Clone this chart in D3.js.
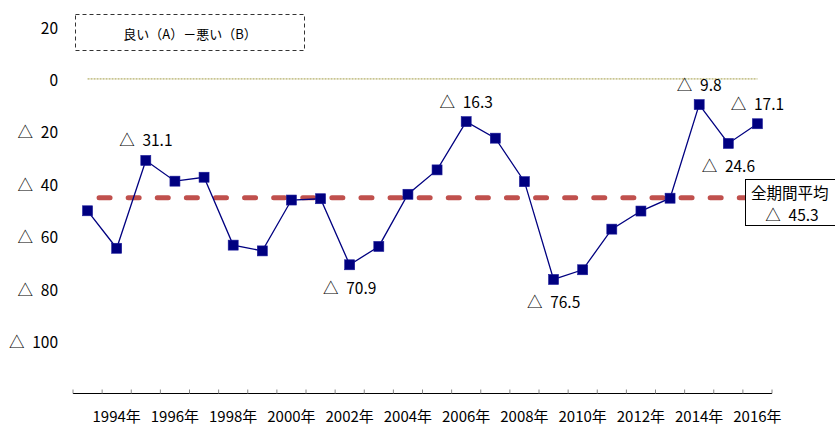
<!DOCTYPE html>
<html lang="ja">
<head>
<meta charset="utf-8">
<script src="https://d3js.org/d3.v7.min.js"></script>
<style>
	body { margin: 0; background: #fff; }
	text {
		font-family: "Noto Sans CJK JP", "Noto Sans", sans-serif;
		fill: #000;
	}
</style>
</head>
<body>
<script>
// data: 良い(A)－悪い(B), shown as negative (△ = minus)
var years = d3.range(1993, 2017);
var values = [-50.3, -64.6, -31.1, -39.0, -37.5, -63.4, -65.6, -46.2, -45.7, -70.9,
	-63.9, -44.0, -34.7, -16.3, -22.6, -39.2, -76.5, -72.8, -57.3, -50.4,
	-45.5, -9.8, -24.6, -17.1];
var average = -45.3;
var yTicks = [20, 0, -20, -40, -60, -80, -100];
var xLabelYears = d3.range(1994, 2017, 2);
var labelYears = [1995, 2002, 2006, 2009, 2014, 2015, 2016];
var labelSide = ["above", "below", "above", "below", "above", "below", "above"];

var w = 835, h = 424;

function fmt(v) {
	return v < 0 ? "\u25B3\u2002" + Math.abs(v) : String(v);
}

var svg = d3.select("body").append("svg")
	.attr("width", w)
	.attr("height", h);

var x = d3.scaleBand()
	.domain(years)
	.range([73, 772]);

var y = d3.scaleLinear()
	.domain([-120, 20])
	.range([393.5, 26.5]);

function cx(d) { return x(d) + x.bandwidth() / 2; }

// zero line (dotted olive)
svg.append("line")
	.attr("x1", cx(1993)).attr("x2", cx(2016))
	.attr("y1", y(0)).attr("y2", y(0))
	.attr("stroke", "#a09a40")
	.attr("stroke-width", 1)
	.attr("stroke-dasharray", "2,1");

// y labels (no axis line)
svg.selectAll(".ylab")
	.data(yTicks)
	.enter().append("text")
	.attr("class", "ylab")
	.attr("x", 58)
	.attr("y", function(d) { return y(d); })
	.attr("text-anchor", "end")
	.attr("dominant-baseline", "central")
	.style("font-size", "15.5px")
	.text(fmt);

// x axis: ticks at category boundaries
var xAxis = svg.append("g");
xAxis.append("line")
	.attr("x1", 73).attr("x2", 772)
	.attr("y1", y(-120)).attr("y2", y(-120))
	.attr("stroke", "#000").attr("stroke-width", 1.2);
xAxis.selectAll(".tick")
	.data(years.concat([2017]))
	.enter().append("line")
	.attr("x1", function(d) { return d === 2017 ? 772 : x(d); })
	.attr("x2", function(d) { return d === 2017 ? 772 : x(d); })
	.attr("y1", y(-120)).attr("y2", y(-120) - 4)
	.attr("stroke", "#888").attr("stroke-width", 1);
xAxis.selectAll(".xlab")
	.data(xLabelYears)
	.enter().append("text")
	.attr("x", cx)
	.attr("y", 415)
	.attr("text-anchor", "middle")
	.attr("dominant-baseline", "central")
	.style("font-size", "15px")
	.text(function(d) { return d + "年"; });

// average dashed line
svg.append("line")
	.attr("x1", cx(1993) + 11.5).attr("x2", 745)
	.attr("y1", y(average)).attr("y2", y(average))
	.attr("stroke", "#c0504d")
	.attr("stroke-width", 5)
	.attr("stroke-linecap", "round")
	.attr("stroke-dasharray", "11,18.1");

// series line
var line = d3.line()
	.x(function(d, i) { return cx(years[i]); })
	.y(function(d) { return y(d); });

svg.append("path")
	.datum(values)
	.attr("d", line)
	.attr("fill", "none")
	.attr("stroke", "#000080")
	.attr("stroke-width", 1.3);

svg.selectAll(".pt")
	.data(values)
	.enter().append("rect")
	.attr("x", function(d, i) { return cx(years[i]) - 5; })
	.attr("y", function(d) { return y(d) - 5; })
	.attr("width", 10).attr("height", 10)
	.attr("fill", "#000080")
	.attr("stroke", "#1a1a9a")
	.attr("stroke-width", 0.6);

// data labels
svg.selectAll(".dlab")
	.data(labelYears)
	.enter().append("text")
	.attr("x", function(d) { return cx(d); })
	.attr("y", function(d, i) {
		var v = values[years.indexOf(d)];
		return y(v) + (labelSide[i] === "above" ? -21 : 22);
	})
	.attr("text-anchor", "middle")
	.attr("dominant-baseline", "central")
	.style("font-size", "15.5px")
	.text(function(d) { return fmt(values[years.indexOf(d)]); });

// legend box (dashed)
svg.append("rect")
	.attr("x", 75.5).attr("y", 14.5)
	.attr("width", 229).attr("height", 36)
	.attr("fill", "#fff")
	.attr("stroke", "#333")
	.attr("stroke-width", 1)
	.attr("stroke-dasharray", "4,3");
svg.append("text")
	.attr("x", 190).attr("y", 33)
	.attr("text-anchor", "middle")
	.attr("dominant-baseline", "central")
	.style("font-size", "13px")
	.text("良い（A）－悪い（B）");

// average label box
svg.append("rect")
	.attr("x", 745.5).attr("y", 179.5)
	.attr("width", 100).attr("height", 46)
	.attr("fill", "#fff")
	.attr("stroke", "#000")
	.attr("stroke-width", 1);
svg.append("text")
	.attr("x", 751).attr("y", 192)
	.attr("dominant-baseline", "central")
	.style("font-size", "15.5px")
	.text("全期間平均");
svg.append("text")
	.attr("x", 792).attr("y", 214)
	.attr("text-anchor", "middle")
	.attr("dominant-baseline", "central")
	.style("font-size", "15.5px")
	.text(fmt(average));
</script>
</body>
</html>
